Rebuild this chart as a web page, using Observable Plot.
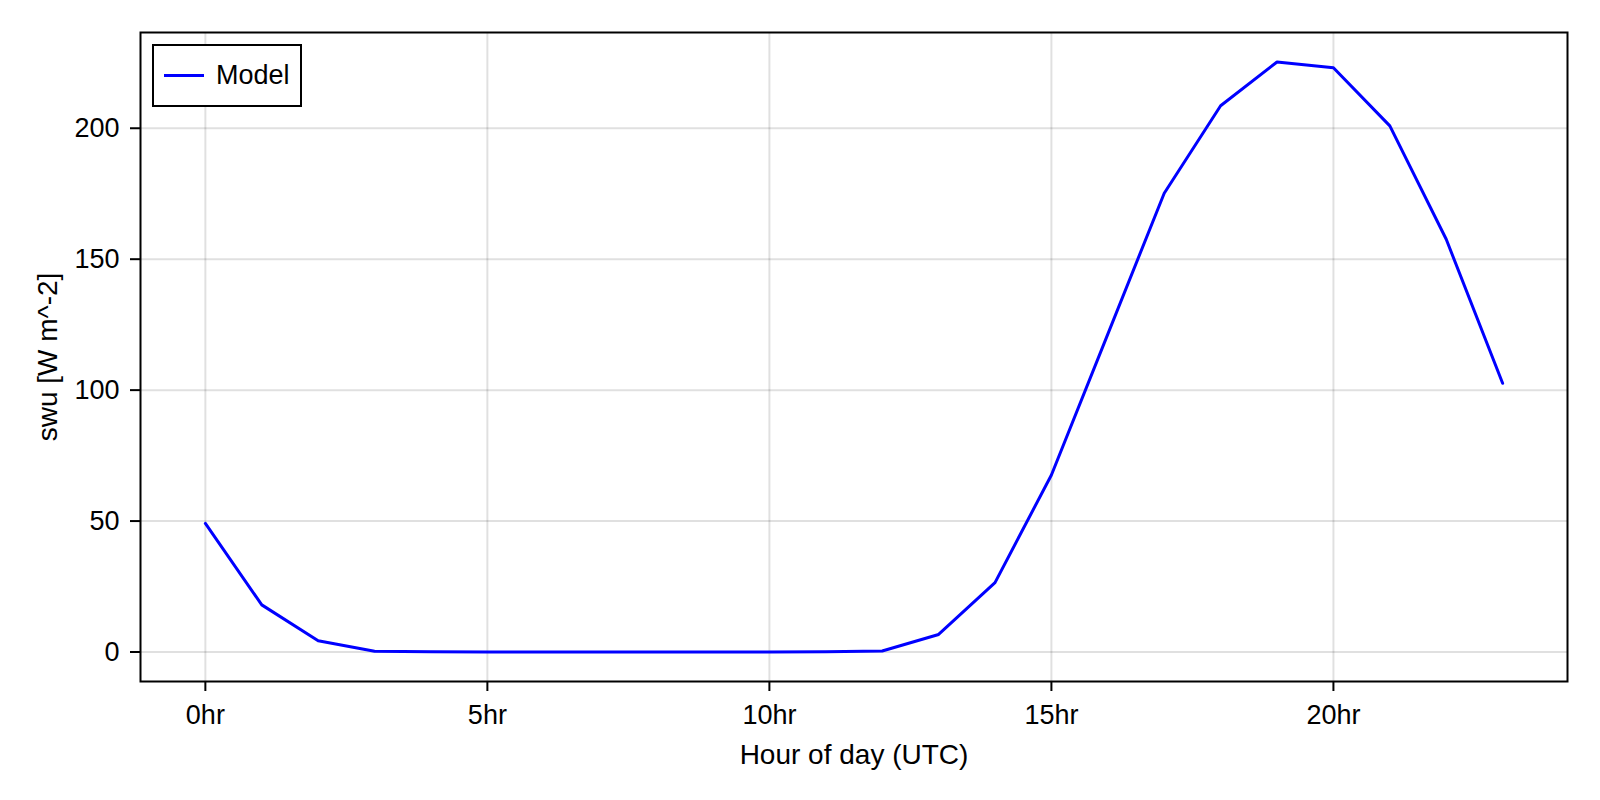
<!DOCTYPE html>
<html>
<head>
<meta charset="utf-8">
<script src="https://cdn.jsdelivr.net/npm/d3@7"></script>
<script src="https://cdn.jsdelivr.net/npm/@observablehq/plot@0.6"></script>
<style>
  html, body { margin: 0; padding: 0; background: #fff; }
  #wrap { position: relative; width: 1600px; height: 800px; font-family: "Liberation Sans", Arial, Helvetica, sans-serif; }
  #legend { position: absolute; left: 152px; top: 44px; width: 146px; height: 59px; border: 2px solid #000; background: #fff; }
  #legend svg { position: absolute; left: 0; top: 0; }
  #legend span { position: absolute; left: 62px; top: 12px; font-size: 27px; line-height: 34px; color: #000; }
</style>
</head>
<body>
<div id="wrap"></div>
<script>
// ---- data ----
const hours = [0,1,2,3,4,5,6,7,8,9,10,11,12,13,14,15,16,17,18,19,20,21,22,23];
const swu = [49.1,18.0,4.3,0.3,0.05,0,0,0,0,0,0,0.05,0.4,6.7,26.5,67.6,121.4,175.2,208.6,225.3,223.1,200.9,157.6,102.6];
const xTicks = [0,5,10,15,20];
const xTickLabels = ["0hr","5hr","10hr","15hr","20hr"];
const yTicks = [0,50,100,150,200];
const yTickLabels = ["0","50","100","150","200"];
const seriesName = "Model";
const xLabel = "Hour of day (UTC)";
const yLabel = "swu [W m^-2]";

const data = hours.map((h, i) => ({hour: h, value: swu[i]}));

const xPad = (d3.max(hours) - d3.min(hours)) * 0.05;
const yPad = (d3.max(swu) - d3.min(swu)) * 0.05;

const chart = Plot.plot({
  width: 1600,
  height: 800,
  marginLeft: 140,
  marginRight: 33,
  marginTop: 32,
  marginBottom: 119,
  style: {fontFamily: '"Liberation Sans", Arial, Helvetica, sans-serif', fontSize: "27px", color: "#000", background: "#fff"},
  x: {domain: [d3.min(hours) - xPad, d3.max(hours) + xPad]},
  y: {domain: [d3.min(swu) - yPad, d3.max(swu) + yPad]},
  marks: [
    Plot.gridX(xTicks, {stroke: "#000", strokeOpacity: 0.12, strokeWidth: 2}),
    Plot.gridY(yTicks, {stroke: "#000", strokeOpacity: 0.12, strokeWidth: 2}),
    Plot.axisX(xTicks, {tickSize: 10, tickPadding: 13, strokeWidth: 2, fontSize: 27,
      tickFormat: d => xTickLabels[xTicks.indexOf(d)], label: null}),
    Plot.axisY(yTicks, {tickSize: 10, tickPadding: 11, strokeWidth: 2, fontSize: 27,
      tickFormat: d => yTickLabels[yTicks.indexOf(d)], label: null}),
    Plot.line(data, {x: "hour", y: "value", stroke: "#0000ff", strokeWidth: 3}),
    Plot.frame({stroke: "#000", strokeWidth: 2}),
    Plot.text([xLabel], {text: d => d, frameAnchor: "bottom", lineAnchor: "middle", textAnchor: "middle", dy: 74, fontSize: 28}),
    Plot.text([yLabel], {text: d => d, frameAnchor: "left", lineAnchor: "middle", textAnchor: "middle", rotate: -90, dx: -92, fontSize: 28})
  ]
});

const wrap = document.getElementById("wrap");
wrap.appendChild(chart);

const legend = document.createElement("div");
legend.id = "legend";
legend.innerHTML = `<svg width="146" height="59"><line x1="10" x2="50" y1="29.5" y2="29.5" stroke="#0000ff" stroke-width="3"/></svg><span></span>`;
legend.querySelector("span").textContent = seriesName;
wrap.appendChild(legend);
</script>
</body>
</html>
